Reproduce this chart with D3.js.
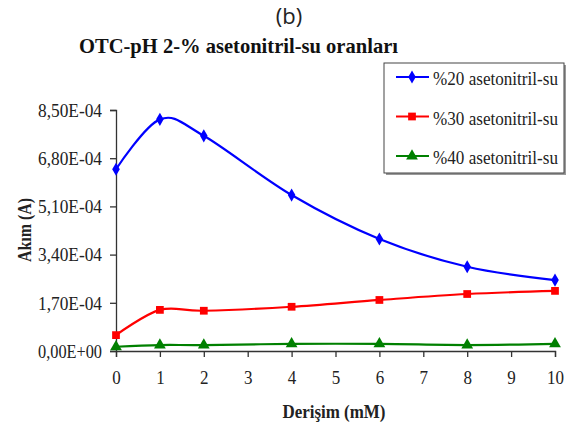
<!DOCTYPE html>
<html>
<head>
<meta charset="utf-8">
<script src="https://cdn.jsdelivr.net/npm/d3@7"></script>
<style>
  body { margin: 0; background: #fff; }
  svg { display: block; }
  .axis path, .axis line { stroke: #333; stroke-width: 1.3; }
</style>
</head>
<body>
<div id="chart"></div>
<script>
const concentrations = [0, 1, 2, 4, 6, 8, 10];
const series20 = [6.41e-4, 8.17e-4, 7.59e-4, 5.50e-4, 3.95e-4, 2.97e-4, 2.50e-4];
const series30 = [0.56e-4, 1.45e-4, 1.42e-4, 1.56e-4, 1.80e-4, 2.01e-4, 2.12e-4];
const series40 = [0.15e-4, 0.21e-4, 0.21e-4, 0.25e-4, 0.25e-4, 0.21e-4, 0.25e-4];
const seriesNames = ["%20 asetonitril-su", "%30 asetonitril-su", "%40 asetonitril-su"];
const seriesColors = ["#0000ff", "#ff0000", "#008000"];
const yTicks = [0, 1.7e-4, 3.4e-4, 5.1e-4, 6.8e-4, 8.5e-4];
const yTickLabels = ["0,00E+00", "1,70E-04", "3,40E-04", "5,10E-04", "6,80E-04", "8,50E-04"];
const xTicks = [0, 1, 2, 3, 4, 5, 6, 7, 8, 9, 10];

// görüntü yatayda sıkışık: yazılar textLength ile daraltılıyor
const SERIF = "'Liberation Serif', 'Times New Roman', serif";
const W = 573, H = 425;
const svg = d3.select("#chart").append("svg").attr("width", W).attr("height", H);

const x = d3.scaleLinear().domain([0, 10]).range([116, 555]);
const y = d3.scaleLinear().domain([0, 8.5e-4]).range([351, 110]);

// Başlıklar
svg.append("text")
  .attr("x", 289).attr("y", 24)
  .attr("text-anchor", "middle")
  .style("font-family", "'Open Sans', sans-serif")
  .style("font-size", "22px").attr("fill", "#222")
  .text("(b)");

svg.append("text")
  .attr("x", 79).attr("y", 53)
  .style("font-family", SERIF)
  .style("font-weight", "bold")
  .style("font-size", "22px").attr("fill", "#111")
  .attr("textLength", 319).attr("lengthAdjust", "spacingAndGlyphs")
  .text("OTC-pH 2-% asetonitril-su oranları");

// Eksenler
const yAxis = svg.append("g")
  .attr("class", "axis")
  .attr("transform", `translate(${x(0)},0)`)
  .call(d3.axisLeft(y).tickValues(yTicks).tickFormat((d, i) => yTickLabels[i]).tickSize(6).tickPadding(8));

const xAxis = svg.append("g")
  .attr("class", "axis")
  .attr("transform", `translate(0,${y(0)})`)
  .call(d3.axisBottom(x).tickValues(xTicks).tickFormat(d3.format("d")).tickSize(6));

yAxis.selectAll("text")
  .style("font-family", SERIF)
  .style("font-size", "19px")
  .attr("fill", "#222")
  .attr("dy", "0.33em")
  .attr("textLength", 64).attr("lengthAdjust", "spacingAndGlyphs");

xAxis.selectAll("text")
  .style("font-family", SERIF)
  .style("font-size", "19px")
  .attr("fill", "#222")
  .attr("y", 33).attr("dy", 0)
  .attr("textLength", d => String(d).length * 8.5).attr("lengthAdjust", "spacingAndGlyphs");

svg.append("text")
  .attr("transform", "translate(31,230) rotate(-90)")
  .attr("text-anchor", "middle")
  .style("font-family", SERIF)
  .style("font-weight", "bold")
  .style("font-size", "18px").attr("fill", "#222")
  .attr("textLength", 64).attr("lengthAdjust", "spacingAndGlyphs")
  .text("Akım (A)");

svg.append("text")
  .attr("x", 334).attr("y", 418)
  .attr("text-anchor", "middle")
  .style("font-family", SERIF)
  .style("font-weight", "bold")
  .style("font-size", "18px").attr("fill", "#222")
  .attr("textLength", 103).attr("lengthAdjust", "spacingAndGlyphs")
  .text("Derişim (mM)");

// Çizgiler
const allSeries = [series20, series30, series40];
const line = d3.line()
  .x(d => x(d[0]))
  .y(d => y(d[1]))
  .curve(d3.curveCardinal.tension(0));

const symbols = [
  d3.symbol().type(d3.symbolDiamond).size(50),
  d3.symbol().type(d3.symbolSquare).size(60),
  d3.symbol().type(d3.symbolTriangle).size(60)
];

allSeries.forEach((vals, si) => {
  const pts = concentrations.map((c, i) => [c, vals[i]]);
  svg.append("path")
    .datum(pts)
    .attr("d", line)
    .attr("fill", "none")
    .attr("stroke", seriesColors[si])
    .attr("stroke-width", 2.2);
  svg.append("g").selectAll("path")
    .data(pts)
    .enter().append("path")
    .attr("transform", d => `translate(${x(d[0])},${y(d[1])})`)
    .attr("d", symbols[si])
    .attr("fill", seriesColors[si]);
});

// Lejant
const legend = svg.append("g");
legend.append("rect")
  .attr("x", 386).attr("y", 65).attr("width", 180).attr("height", 110)
  .attr("fill", "#999");
legend.append("rect")
  .attr("x", 384).attr("y", 63).attr("width", 180).attr("height", 110)
  .attr("fill", "#fff").attr("stroke", "#444").attr("stroke-width", 1);

seriesNames.forEach((name, i) => {
  const ly = 77 + i * 39.5;
  legend.append("line")
    .attr("x1", 396).attr("x2", 429).attr("y1", ly).attr("y2", ly)
    .attr("stroke", seriesColors[i]).attr("stroke-width", 2.2);
  legend.append("path")
    .attr("transform", `translate(412,${ly})`)
    .attr("d", symbols[i])
    .attr("fill", seriesColors[i]);
  legend.append("text")
    .attr("x", 433).attr("y", ly + 8)
    .style("font-family", SERIF)
    .style("font-size", "18px").attr("fill", "#222")
    .attr("textLength", 125).attr("lengthAdjust", "spacingAndGlyphs")
    .text(name);
});
</script>
</body>
</html>
